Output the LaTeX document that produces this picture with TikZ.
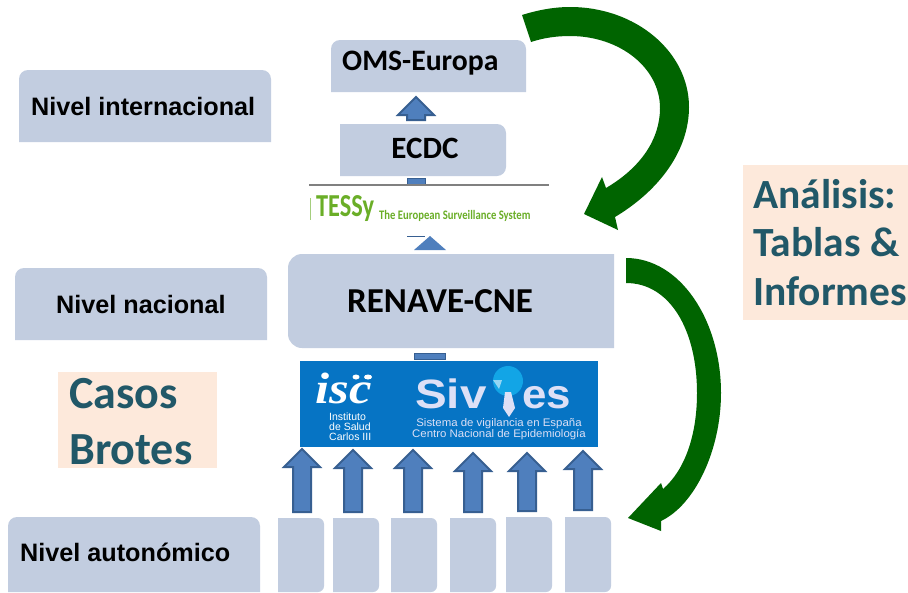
\documentclass[tikz,border=0pt]{standalone}
\usepackage{fontspec}
\setmainfont{Liberation Sans}
\newfontfamily\cali{Carlito}
\newfontfamily\libs{Liberation Serif}
\definecolor{boxblue}{HTML}{C2CDE0}
\definecolor{arrowfill}{HTML}{4F7FBD}
\definecolor{arrowline}{HTML}{375F91}
\definecolor{peach}{HTML}{FDE9DB}
\definecolor{tealc}{HTML}{215868}
\definecolor{dgreen}{HTML}{006400}
\definecolor{sivblue}{HTML}{0674C4}
\definecolor{tess}{HTML}{6AAE27}
\definecolor{pale}{HTML}{DDE0F6}
\definecolor{cyanb}{HTML}{12A5E6}
\tikzset{x=1pt,y=-1pt,
 lvltext/.style={font=\bfseries\fontsize{25.2}{28}\selectfont,text=black,inner sep=0pt,anchor=west},
 calitext/.style={font=\cali\bfseries,text=black,inner sep=0pt},
 peachbox/.style={fill=peach,draw=none},
 tealtext/.style={font=\cali\bfseries\fontsize{41.5}{48}\selectfont,text=tealc,inner sep=0pt,anchor=west},
 tealbig/.style={font=\cali\bfseries\fontsize{46}{50}\selectfont,text=tealc,inner sep=0pt,anchor=west},
 uparrow/.style={fill=arrowfill,draw=arrowline,line width=2pt,line join=miter},
 greenarrow/.style={fill=dgreen,draw=none},
 whitetext/.style={text=white,inner sep=0pt},
 paletext/.style={text=pale,inner sep=0pt}}
% x y w h r-topleft r-topright r-bottomright r-bottomleft
\newcommand{\bluebox}[8]{\fill[boxblue] (#1+#5,#2) -- (#1+#3-#6,#2)
 .. controls (#1+#3-.45*#6,#2) and (#1+#3,#2+.45*#6) .. (#1+#3,#2+#6)
 -- (#1+#3,#2+#4-#7)
 .. controls (#1+#3,#2+#4-.45*#7) and (#1+#3-.45*#7,#2+#4) .. (#1+#3-#7,#2+#4)
 -- (#1+#8,#2+#4)
 .. controls (#1+.45*#8,#2+#4) and (#1,#2+#4-.45*#8) .. (#1,#2+#4-#8)
 -- (#1,#2+#5)
 .. controls (#1,#2+.45*#5) and (#1+.45*#5,#2) .. (#1+#5,#2) -- cycle;}
\newcommand{\uparr}[3]{% centre x, tip y, bottom y
 \draw[uparrow] (#1,#2) -- (#1+18,#2+18) -- (#1+9,#2+18) -- (#1+9,#3) -- (#1-9,#3) -- (#1-9,#2+18) -- (#1-18,#2+18) -- cycle;}
\begin{document}
\begin{tikzpicture}
\useasboundingbox (0,0) rectangle (908,592);
\fill[white] (0,0) rectangle (908,592);
% level boxes
\bluebox{19}{70}{252}{72}{9}{9}{0}{0}
\node[lvltext] (tint) at (31,106) {Nivel internacional};
\bluebox{15}{268}{252}{72}{9}{9}{0}{0}
\node[lvltext] (tnac) at (56,304) {Nivel nacional};
\bluebox{8}{517}{252}{75}{9}{9}{0}{0}
\node[lvltext] (taut) at (20,552) {Nivel autonómico};
% centre
\bluebox{331}{40}{195}{52}{9}{9}{0}{0}
\node[calitext,font=\cali\bfseries\fontsize{29.7}{34}\selectfont,anchor=west] (toms) at (342,63) {OMS-Europa};
\bluebox{340}{124}{166}{52}{0}{9}{9}{0}
\node[calitext,font=\cali\bfseries\fontsize{31}{34}\selectfont] (tecdc) at (425,148) {ECDC};
\uparr{416}{97}{120}
\fill[arrowfill] (407,178) rectangle (425,185);
\draw[arrowline,line width=1pt] (407,178) -- (407,185) (425,178) -- (425,185) (407,178) -- (425,178);
\draw[gray,line width=1.5pt] (309,185) -- (549,185);
% TESSy
\draw[tess!60,line width=.5pt] (310,198) -- (310,220);
\node[inner sep=0pt,anchor=west,text=tess] (tessy) at (316,209) {\cali\bfseries\fontsize{32}{34}\selectfont\scalebox{.76}[1]{TESSy}};
\node[inner sep=0pt,anchor=west,text=tess] (tesss) at (379,216) {\cali\bfseries\fontsize{13}{15}\selectfont\scalebox{.82}[1]{The European Surveillance System}};
\fill[arrowfill] (414,250) -- (430,236) -- (446,250) -- cycle;
\draw[arrowline,line width=1pt] (407,236) -- (425,236);
% renave
\bluebox{288}{254}{326}{94}{14}{0}{0}{14}
\node[calitext,font=\cali\bfseries\fontsize{35}{38}\selectfont,anchor=west] (tren) at (347,301) {RENAVE-CNE};
\fill[arrowfill] (414,353) rectangle (445,359);
\draw[arrowline,line width=1pt] (414,353) rectangle (445,359);
% sivies
\fill[sivblue] (300,361) rectangle (598,447);
\node[whitetext,anchor=base] (isc) at (344,403) {\libs\itshape\bfseries\fontsize{44}{44}\selectfont\scalebox{1.15}[1]{isc}};
\fill[white] (356,377) ellipse[x radius=3.5,y radius=2.5] (368,377) ellipse[x radius=4,y radius=2.5];
\node[whitetext,align=left,anchor=north west,font=\fontsize{10.5}{10}\selectfont] (inst) at (329,413) {Instituto\\de Salud\\Carlos III};
\node[paletext,anchor=base west] (sv) at (415,408) {\bfseries\fontsize{41}{41}\selectfont\scalebox{1.16}[1]{Siv}};
\node[paletext,anchor=base west] (es) at (522,408) {\bfseries\fontsize{41}{41}\selectfont\scalebox{1.07}[1]{es}};
\fill[cyanb] (508,381) circle[radius=15];
\fill[cyanb!45!white] (493,380) -- (502,380) -- (499,389) -- cycle;
\fill[pale] (505,392) -- (511,392) -- (515,408) -- (509,417) -- (503,408) -- cycle;
\node[paletext,align=center,font=\fontsize{11}{11}\selectfont] (sub) at (499,429) {\scalebox{1.04}[1]{Sistema de vigilancia en España}\\\scalebox{1.04}[1]{Centro Nacional de Epidemiología}};
% up arrows
\uparr{302}{449}{512}
\uparr{353}{450}{512}
\uparr{413}{450}{512}
\uparr{473}{453}{512}
\uparr{527}{453}{511}
\uparr{583}{451}{510}
% small boxes
\bluebox{278}{518}{46}{74}{0}{6}{6}{0}
\bluebox{333}{518}{46}{74}{0}{6}{6}{0}
\bluebox{391}{518}{46}{74}{0}{6}{6}{0}
\bluebox{450}{518}{46}{74}{0}{6}{6}{0}
\bluebox{506}{517}{46}{75}{0}{6}{6}{0}
\bluebox{565}{517}{46}{75}{0}{6}{6}{0}
% peach
\fill[peachbox] (58,372) rectangle (217,468);
\node[tealbig] (tcasos) at (69,394) {Casos};
\node[tealbig] (tbrotes) at (69,450) {Brotes};
\fill[peachbox] (743,165) rectangle (908,320);
\node[tealtext] (t1) at (753,194) {Análisis:};
\node[tealtext] (t2) at (753,242) {Tablas \&};
\node[tealtext] (t3) at (753,291) {Informes};
% green arrows
\fill[greenarrow] (522,15) .. controls (538,10) and (554,7) .. (570,7)
 .. controls (636,7) and (689,52) .. (689,107)
 .. controls (689,150) and (660,190) .. (615,217) -- (618,230) -- (584,214) -- (602,177) -- (606,188)
 .. controls (640,168) and (660,140) .. (660,108)
 .. controls (660,68) and (620,36) .. (570,36)
 .. controls (556,36) and (543,38) .. (531,42) -- cycle;
\fill[greenarrow] (626,258) .. controls (680,258) and (721,320) .. (721,393)
 .. controls (721,450) and (695,505) .. (661,521) -- (661,531) -- (628,518) -- (661,483) -- (663,489)
 .. controls (685,470) and (697,435) .. (697,393)
 .. controls (697,330) and (670,283) .. (626,283) -- cycle;
\end{tikzpicture}
\end{document}
